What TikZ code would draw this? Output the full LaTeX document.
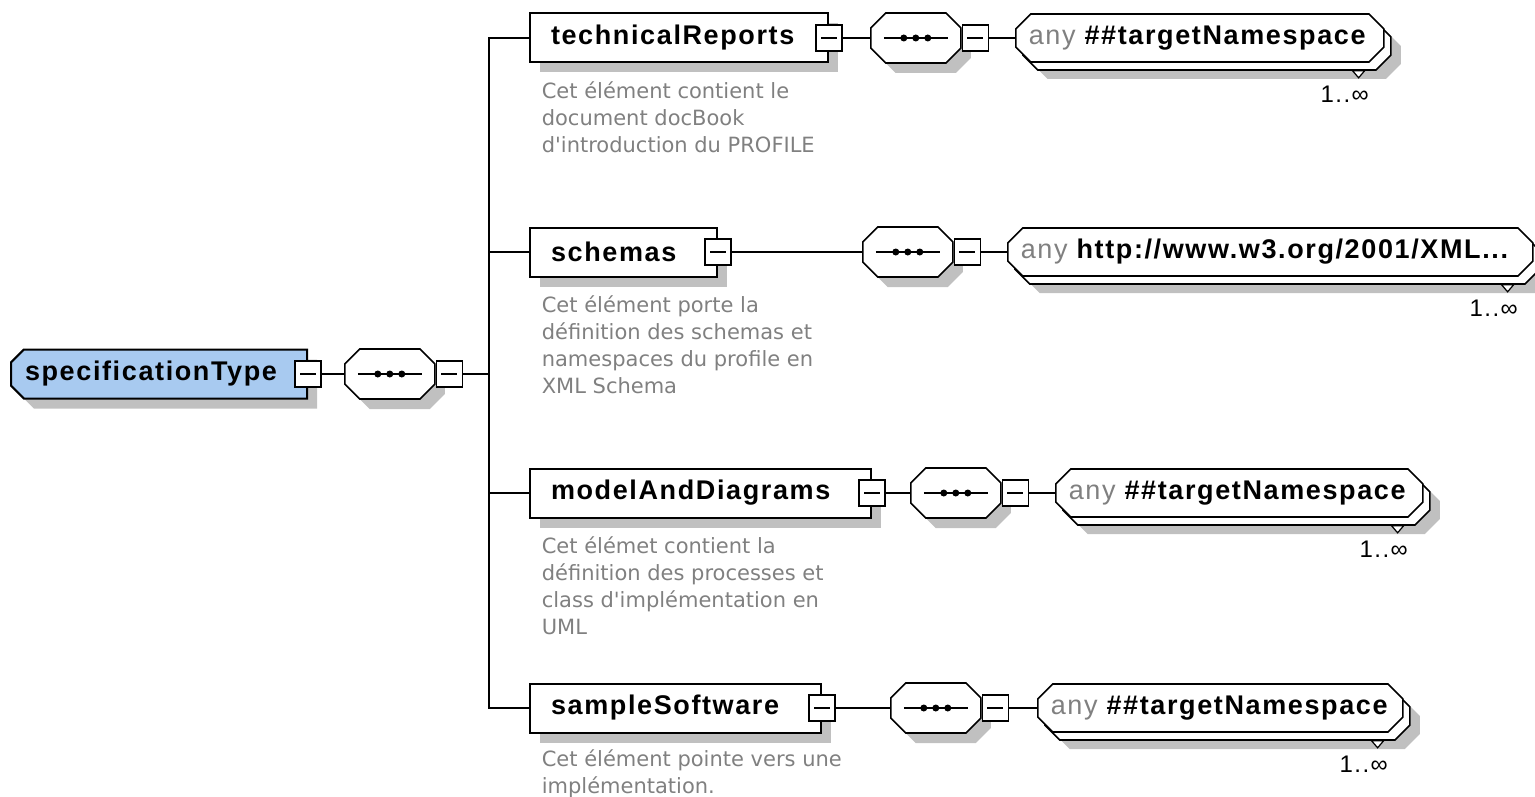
\documentclass[tikz,border=0pt]{standalone}
\usepackage{fontspec}
\usepackage{xcolor}
\usetikzlibrary{positioning,shapes,shadows}

\newfontfamily\namefont[LetterSpace=6]{Liberation Sans}
\newfontfamily\descfont{DejaVu Sans}
\definecolor{typeblue}{RGB}{168,202,240}
\definecolor{docgray}{RGB}{128,128,128}
\definecolor{shadowgray}{RGB}{192,192,192}
\newcommand\anytext[1]{{\mdseries\color{docgray}any} #1}

\begin{document}
\begin{tikzpicture}[x=1pt,y=-1pt]
\tikzstyle{every path}=[line width=1.6pt]
\useasboundingbox (0,0) rectangle (1535,797);

\tikzstyle{shade}=[drop shadow={fill=shadowgray,opacity=1,shadow xshift=10pt,shadow yshift=-10pt}]
\tikzstyle{elem}=[rectangle,draw,line width=2pt,fill=white,minimum height=49pt,
  inner xsep=21pt,inner ysep=0pt,align=left,
  font=\namefont\bfseries\fontsize{27}{30}\selectfont,shade]
\tikzstyle{roottype}=[elem,chamfered rectangle,chamfered rectangle xsep=10pt,
  chamfered rectangle corners={north west,south west},fill=typeblue,inner xsep=4pt]
\tikzstyle{minus}=[rectangle,draw,fill=white,minimum size=26pt,inner sep=0pt,
  path picture={\draw ([xshift=5pt]path picture bounding box.west)
    -- ([xshift=-5pt]path picture bounding box.east);}]
\tikzstyle{seq}=[chamfered rectangle,chamfered rectangle xsep=12pt,draw,fill=white,
  minimum height=50pt,inner xsep=33pt,inner ysep=0pt,shade,
  font=\namefont\bfseries\fontsize{27}{30}\selectfont,
  path picture={\draw ([xshift=13pt]path picture bounding box.west)
    -- ([xshift=-13pt]path picture bounding box.east);
    \foreach \dx in {-12,0,12}
      \fill[black] ([xshift=\dx pt]path picture bounding box.center) circle (3.5pt);}]
\tikzstyle{anyel}=[chamfered rectangle,chamfered rectangle xsep=12pt,draw,fill=white,
  minimum height=48pt,inner xsep=1pt,inner ysep=0pt,align=left,
  font=\namefont\bfseries\fontsize{27}{30}\selectfont,
  drop shadow={fill=shadowgray,opacity=1,shadow xshift=17pt,shadow yshift=-17pt},
  copy shadow={fill=white,draw=black,opacity=1,shadow xshift=7pt,shadow yshift=-8pt}]
\tikzstyle{desc}=[anchor=north west,inner sep=0pt,align=left,text=docgray,
  font=\descfont\fontsize{21}{27}\selectfont]
\tikzstyle{mult}=[anchor=base east,inner sep=0pt,font=\namefont\fontsize{24}{28}\selectfont]

%% Root type with its sequence
\node[roottype,text width=268pt,anchor=west] (spec) at (10,374) {specificationType};
\node[minus] (specm) at (spec.east) {};
\node[seq,anchor=west] (seq0) at (344,374) {\vphantom{Ag}};
\node[minus,anchor=west] (seq0m) at (seq0.east) {};
\coordinate (bus) at (489,374);
\draw (specm) -- (seq0);
\draw (seq0m) -- (bus);

%% technicalReports
\node[elem,text width=256pt,anchor=west] (tech) at (529,38) {technicalReports};
\node[minus] (techm) at (tech.east) {};
\node[seq,anchor=west] (techseq) at (870,38) {\vphantom{Ag}};
\node[minus,anchor=west] (techseqm) at (techseq.east) {};
\node[anyel,text width=342pt,anchor=west] (techany) at (1015,38) {\anytext{\#\#targetNamespace}};
\node[desc] (techdoc) at ([xshift=12pt,yshift=-17pt]tech.south west)
  {Cet élément contient le\\document docBook\\d\textquotesingle introduction du PROFILE};

%% schemas
\node[elem,text width=145pt,anchor=west] (schem) at (529,252) {schemas};
\node[minus] (schemm) at (schem.east) {};
\node[seq,anchor=west] (schemseq) at (862,252) {\vphantom{Ag}};
\node[minus,anchor=west] (schemseqm) at (schemseq.east) {};
\node[anyel,text width=499pt,anchor=west] (schemany) at (1007,252) {\anytext{http://www.w3.org/2001/XML...}};
\node[desc] (schemdoc) at ([xshift=12pt,yshift=-17pt]schem.south west)
  {Cet élément porte la\\définition des schemas et\\namespaces du profile en\\XML Schema};

%% modelAndDiagrams
\node[elem,text width=299pt,anchor=west] (model) at (529,493) {modelAndDiagrams};
\node[minus] (modelm) at (model.east) {};
\node[seq,anchor=west] (modelseq) at (910,493) {\vphantom{Ag}};
\node[minus,anchor=west] (modelseqm) at (modelseq.east) {};
\node[anyel,text width=341pt,anchor=west] (modelany) at (1055,493) {\anytext{\#\#targetNamespace}};
\node[desc] (modeldoc) at ([xshift=12pt,yshift=-17pt]model.south west)
  {Cet élémet contient la\\définition des processes et\\class d\textquotesingle implémentation en\\UML};

%% sampleSoftware
\node[elem,text width=249pt,anchor=west] (soft) at (529,708) {sampleSoftware};
\node[minus] (softm) at (soft.east) {};
\node[seq,anchor=west] (softseq) at (890,708) {\vphantom{Ag}};
\node[minus,anchor=west] (softseqm) at (softseq.east) {};
\node[anyel,text width=339pt,anchor=west] (softany) at (1037,708) {\anytext{\#\#targetNamespace}};
\node[desc] (softdoc) at ([xshift=12pt,yshift=-15pt]soft.south west)
  {Cet élément pointe vers une\\implémentation.};

%% Tree connectors
\draw (tech.west) -| (bus) |- (soft.west);
\draw (schem.west) -- (schem.west -| bus);
\draw (model.west) -- (model.west -| bus);
\foreach \r in {tech,schem,model,soft}{
  \draw (\r m) -- (\r seq);
  \draw (\r seqm) -- (\r any);
}

%% Occurrence marks
\foreach \a in {techany,schemany,modelany,softany}{
  \draw[line width=1.2pt,fill=white] ([xshift=-32pt,yshift=-8pt]\a.south -| \a.east)
    -- ++(12,0) -- ++(-6,7) -- cycle;
  \node[mult] (\a-mult) at ([xshift=-15pt,yshift=-40pt]\a.south -| \a.east) {1..∞};
}
\end{tikzpicture}
\end{document}
